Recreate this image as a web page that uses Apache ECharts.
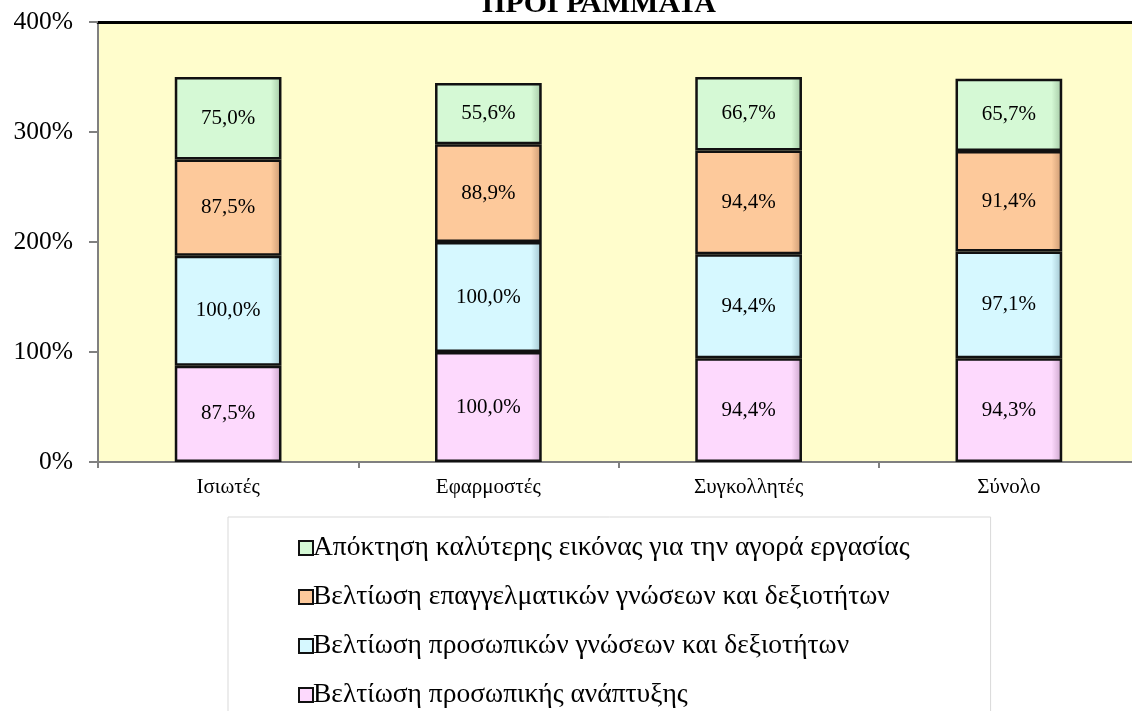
<!DOCTYPE html>
<html>
<head>
<meta charset="utf-8">
<script src="https://cdn.jsdelivr.net/npm/echarts@6/dist/echarts.min.js"></script>
<style>
  html, body { margin: 0; padding: 0; background: #fff; overflow: hidden; }
  #main { width: 1140px; height: 800px; }
</style>
</head>
<body>
<div id="main"></div>
<script>
// κατηγορίες και τιμές (%)
const categories = ['Ισιωτές', 'Εφαρμοστές', 'Συγκολλητές', 'Σύνολο']
const seriesNames = [
    'Βελτίωση προσωπικής ανάπτυξης',
    'Βελτίωση προσωπικών γνώσεων και δεξιοτήτων',
    'Βελτίωση επαγγελματικών γνώσεων και δεξιοτήτων',
    'Απόκτηση καλύτερης εικόνας για την αγορά εργασίας'
]
const personalDev = [87.5, 100.0, 94.4, 94.3]
const personalSkills = [100.0, 100.0, 94.4, 97.1]
const professionalSkills = [87.5, 88.9, 94.4, 91.4]
const marketImage = [75.0, 55.6, 66.7, 65.7]
const yTicks = [0, 100, 200, 300, 400]

const serif = '"Liberation Serif", "DejaVu Serif", serif'

// χρώματα: βάση και πιο σκούρο για την άκρη (ανάγλυφο)
const colors = [
    ['#FDD9FD', '#C9A3C9'],
    ['#D6F8FF', '#9FC2CC'],
    ['#FDC99B', '#C99871'],
    ['#D5F9D5', '#A3C7A3']
]

function bevel(c) {
    return {
        type: 'linear', x: 0, y: 0, x2: 1, y2: 0,
        colorStops: [
            { offset: 0, color: c[0] },
            { offset: 0.9, color: c[0] },
            { offset: 1, color: c[1] }
        ]
    }
}

const dataSets = [personalDev, personalSkills, professionalSkills, marketImage]

const option = {
    title: {
        text: 'ΠΡΟΓΡΑΜΜΑΤΑ',
        left: 594,
        textAlign: 'center',
        top: -16,
        textStyle: { fontFamily: serif, fontSize: 30, fontWeight: 'bold', color: '#000' }
    },
    grid: {
        left: 98,
        right: 1,
        top: 22,
        bottom: 338,
        show: true,
        backgroundColor: '#FFFDCC',
        borderWidth: 0
    },
    legend: {
        orient: 'vertical',
        left: 228,
        top: 517,
        data: seriesNames.slice().reverse(),
        icon: 'rect',
        itemWidth: 14,
        itemHeight: 14,
        itemGap: 21,
        padding: [17, 81, 20, 70],
        borderColor: '#d9d9d9',
        borderWidth: 1,
        textStyle: { fontFamily: serif, fontSize: 27.5, color: '#000', padding: [0, 0, 0, -5] }
    },
    xAxis: [
        {
            type: 'category',
            data: categories,
            axisLine: { lineStyle: { color: '#808080', width: 2 } },
            axisTick: { show: true, length: 6, lineStyle: { color: '#808080', width: 2 } },
            axisLabel: { fontFamily: serif, fontSize: 21, color: '#000', margin: 15 }
        },
        {
            type: 'category',
            data: categories,
            position: 'top',
            axisLine: { lineStyle: { color: '#000', width: 3 } },
            axisTick: { show: false },
            axisLabel: { show: false }
        }
    ],
    yAxis: {
        type: 'value',
        min: yTicks[0],
        max: yTicks[yTicks.length - 1],
        interval: 100,
        axisLine: { show: true, lineStyle: { color: '#808080', width: 2 } },
        axisTick: { show: true, length: 9, lineStyle: { color: '#808080', width: 2 } },
        splitLine: { show: false },
        axisLabel: {
            fontFamily: serif, fontSize: 25.5, color: '#000', margin: 25,
            formatter: '{value}%'
        }
    },
    series: dataSets.map((d, i) => ({
        name: seriesNames[i],
        type: 'bar',
        stack: 'total',
        barWidth: '41%',
        data: d,
        itemStyle: {
            color: bevel(colors[i]),
            borderColor: '#111',
            borderWidth: 2.5
        },
        label: {
            show: true,
            position: 'inside',
            fontFamily: serif,
            fontSize: 21,
            color: '#000',
            formatter: (p) => p.value.toFixed(1).replace('.', ',') + '%'
        }
    }))
}

const chart = echarts.init(document.getElementById('main'))
chart.setOption(option)
</script>
</body>
</html>
